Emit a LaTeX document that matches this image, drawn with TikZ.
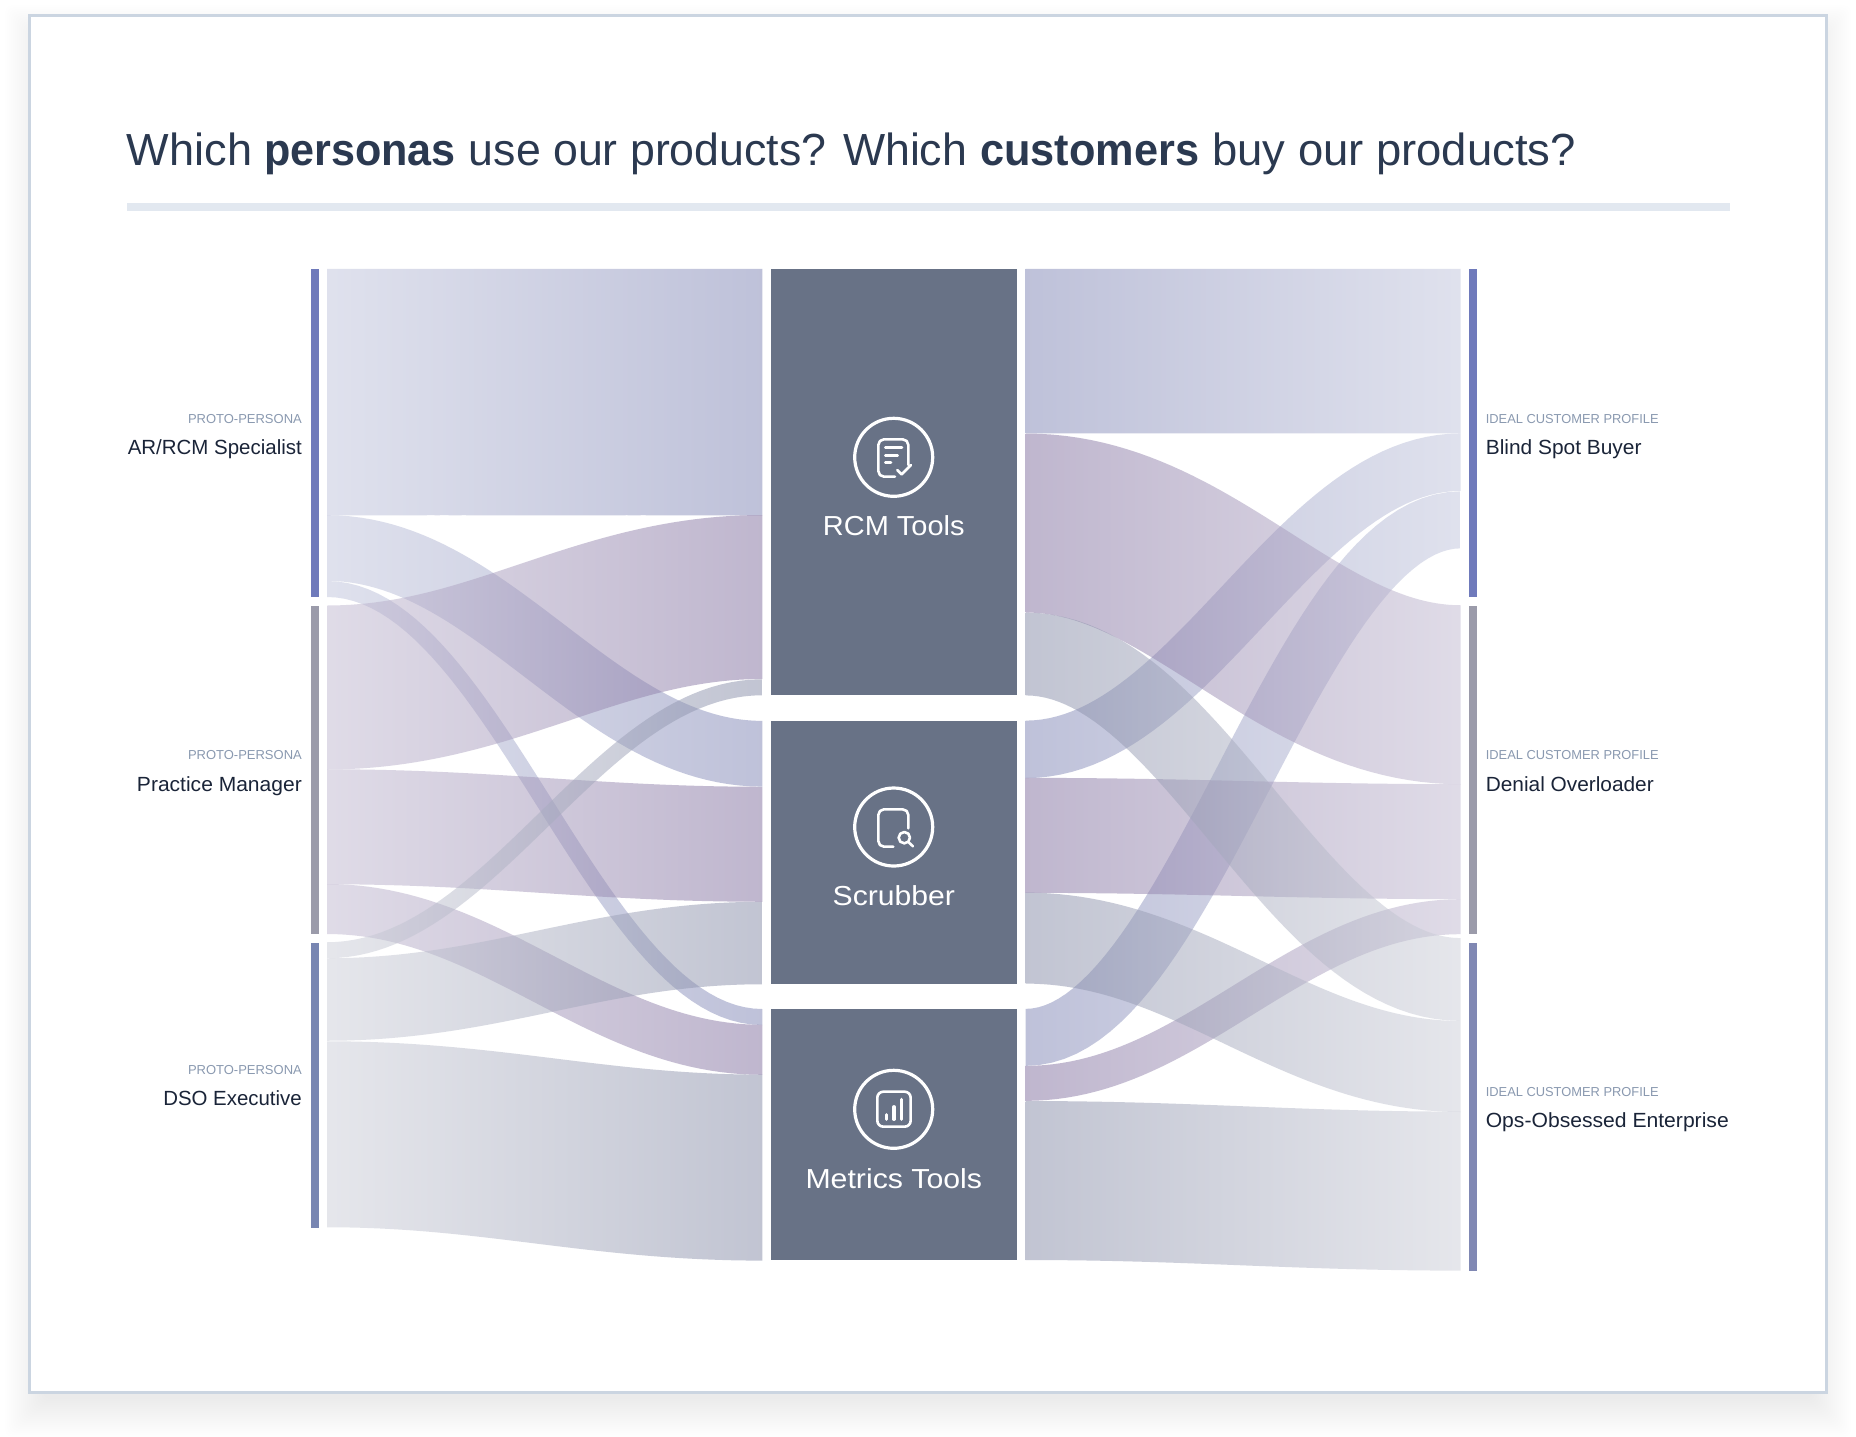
\documentclass[tikz,border=0pt]{standalone}
\usepackage{fontspec}
\usepackage{graphicx}
\setmainfont{Liberation Sans}
\definecolor{frameC}{HTML}{CBD5E1}
\definecolor{ruleC}{HTML}{E2E8F0}
\definecolor{titleC}{HTML}{2B3950}
\definecolor{smallC}{HTML}{8A99B0}
\definecolor{nameC}{HTML}{1A2438}
\definecolor{coreC}{RGB}{104,114,134}
\definecolor{barA}{RGB}{111,122,187}
\definecolor{barB}{RGB}{155,155,170}
\definecolor{barC}{RGB}{120,134,178}
\definecolor{barD}{RGB}{128,136,179}
\definecolor{aL}{RGB}{193,197,221}
\definecolor{aD}{RGB}{127,133,181}
\definecolor{bL}{RGB}{193,185,209}
\definecolor{bD}{RGB}{129,111,159}
\definecolor{cL}{RGB}{205,207,217}
\definecolor{cD}{RGB}{133,139,167}
\newsavebox{\fitbox}
\newcommand{\fitto}[2]{\sbox{\fitbox}{#2}\pgfmathsetmacro{\fitsc}{#1/(\wd\fitbox/1pt)}\scalebox{\fitsc}[1]{\usebox{\fitbox}}}
\def\rK{0.38}
\newcommand{\ribbon}[5]{%
  \pgfpointanchor{#1}{center}\pgfgetlastxy{\xaa}{\yaa}%
  \pgfpointanchor{#2}{center}\pgfgetlastxy{\xbb}{\ybb}%
  \pgfmathsetmacro{\xa}{\xaa}\pgfmathsetmacro{\ya}{\yaa}%
  \pgfmathsetmacro{\xb}{\xbb}\pgfmathsetmacro{\yb}{\ybb}%
  \pgfmathsetmacro{\rL}{\xb-\xa}\pgfmathsetmacro{\rH}{\yb-\ya}%
  \pgfmathsetmacro{\rW}{#3/2}%
  \pgfmathsetmacro{\rS}{\rH/\rL}%
  \pgfmathsetmacro{\ystart}{\ya+\rW}%
  \xdef\ribup{(\xa pt,\ystart pt)}%
  \gdef\ribdn{}%
  \foreach \i in {0,...,50}{%
    \pgfmathsetmacro{\t}{\i/50}%
    \pgfmathsetmacro{\s}{1-\t}%
    \pgfmathsetmacro{\px}{\xa+\rL*(3*\rK*\t*\s*\s+3*(1-\rK)*\t*\t*\s+\t*\t*\t)}%
    \pgfmathsetmacro{\py}{\ya+\rH*(3*\t*\t-2*\t*\t*\t)}%
    \pgfmathsetmacro{\uu}{3*(\rK*\s*\s+2*(1-2*\rK)*\t*\s+\rK*\t*\t)}%
    \pgfmathsetmacro{\vv}{\rS*6*\t*\s}%
    \pgfmathsetmacro{\rr}{veclen(\uu,\vv)}%
    \pgfmathsetmacro{\nx}{-\vv/\rr*\rW}%
    \pgfmathsetmacro{\ny}{\uu/\rr*\rW}%
    \pgfmathsetmacro{\ux}{max(\xa,min(\xb,\px+\nx))}%
    \pgfmathsetmacro{\uy}{\py+\ny}%
    \pgfmathsetmacro{\lx}{max(\xa,min(\xb,\px-\nx))}%
    \pgfmathsetmacro{\ly}{\py-\ny}%
    \xdef\ribup{\ribup -- (\ux pt,\uy pt)}%
    \xdef\ribdn{-- (\lx pt,\ly pt) \ribdn}%
  }%
  \shade[flowstyle,left color=#4,right color=#5] \ribup \ribdn -- cycle;%
}
\tikzset{
  flowstyle/.style={fill opacity=0.5,draw=none},
  barnode/.style={rectangle,inner sep=0pt,minimum width=8pt,draw=none},
  corenode/.style={rectangle,inner sep=0pt,minimum width=246.3pt,fill=coreC,draw=none},
  smalltext/.style={inner sep=0pt,text=smallC,font=\fontsize{13}{15}\selectfont},
  nametext/.style={inner sep=0pt,text=nameC,font=\fontsize{20.5}{24}\selectfont},
  coretext/.style={inner sep=0pt,text=white,font=\fontsize{27.5}{32}\selectfont,anchor=base},
  ring/.style={circle,inner sep=0pt,minimum size=78pt,draw=white,line width=3.2pt},
  iconline/.style={draw=white,line width=2.6pt,line cap=round,line join=round},
  iconbar/.style={draw=white,line width=3.2pt,line cap=round},
}
\begin{document}
\begin{tikzpicture}[x=1pt,y=-1pt]
\useasboundingbox (0,0) rectangle (1856,1436);
% soft shadow
\foreach \e in {2,4,...,40}{
  \fill[black,opacity=0.005,rounded corners=8pt]
    (45-\e,45-\e) rectangle (1811+\e,1397+\e);
}
\node[rectangle,inner sep=0pt,minimum width=1797pt,minimum height=1377pt,fill=white,draw=frameC,line width=3pt] (card) at (928,704) {};
\node[inner sep=0pt,anchor=base west,text=titleC,font=\fontsize{45}{50}\selectfont] (title) at (126.7,165.7)
  {\fitto{125.3}{Which}\hspace{12pt}\fitto{191.7}{\textbf{personas}}\hspace{13pt}\fitto{498.3}{use our products? Which}\hspace{13pt}\fitto{219}{\textbf{customers}}\hspace{13pt}\fitto{363.6}{buy our products?}};
\node[rectangle,inner sep=0pt,minimum width=1603pt,minimum height=8pt,fill=ruleC] (rule) at (928.2,206.7) {};

% ribbon ends
\foreach \n/\y in {ar1/392,ar2/548,ar3/589,pm1/687.5,pm2/826.75,pm3/909,ds1/950.25,ds2/999.5,ds3/1134.25}
  \coordinate (\n) at (327,\y);
\foreach \n/\y in {ar1t/392,ar2t/753.75,ar3t/1017,pm1t/597,pm2t/844.25,pm3t/1049.8,ds1t/687.25,ds2t/943,ds3t/1167.6}
  \coordinate (\n) at (762.3,\y);
\foreach \n/\y in {ra/351.1,rb/523,rc/654,sa/749.35,sb/835.35,sc/938.1,ma/1037.35,mb/1083.35,mc/1180.5}
  \coordinate (\n) at (1025.7,\y);
\foreach \n/\y in {rat/351.1,rbt/694.75,rct/979.5,sat/462.15,sbt/841.65,sct/1066.5,mat/519.85,mbt/916.65,mct/1191.1}
  \coordinate (\n) at (1460.7,\y);

% left ribbons
\ribbon{ar1}{ar1t}{246.5}{aL}{aD}
\ribbon{ar2}{ar2t}{65.7}{aL}{aD}
\ribbon{ar3}{ar3t}{16}{aL}{aD}
\ribbon{pm1}{pm1t}{164}{bL}{bD}
\ribbon{pm2}{pm2t}{115}{bL}{bD}
\ribbon{pm3}{pm3t}{50}{bL}{bD}
\ribbon{ds1}{ds1t}{16}{cL}{cD}
\ribbon{ds2}{ds2t}{82.5}{cL}{cD}
\ribbon{ds3}{ds3t}{186}{cL}{cD}
% right ribbons
\ribbon{ra}{rat}{164.3}{aD}{aL}
\ribbon{sa}{sat}{57.5}{aD}{aL}
\ribbon{ma}{mat}{57}{aD}{aL}
\ribbon{rb}{rbt}{179}{bD}{bL}
\ribbon{sb}{sbt}{115}{bD}{bL}
\ribbon{mb}{mbt}{35}{bD}{bL}
\ribbon{rc}{rct}{82.8}{cD}{cL}
\ribbon{sc}{sct}{91}{cD}{cL}
\ribbon{mc}{mct}{159}{cD}{cL}

% side bars
\node[barnode,fill=barA,minimum height=328.5pt] (arbar) at (314.7,432.75) {};
\node[barnode,fill=barB,minimum height=328.5pt] (pmbar) at (314.7,769.75) {};
\node[barnode,fill=barC,minimum height=285pt] (dsbar) at (314.7,1085) {};
\node[barnode,fill=barA,minimum height=328.5pt] (blbar) at (1473,432.75) {};
\node[barnode,fill=barB,minimum height=328.5pt] (debar) at (1473,769.75) {};
\node[barnode,fill=barD,minimum height=328pt] (opbar) at (1473,1106.5) {};

% core blocks
\node[corenode,minimum height=426.8pt] (rcm) at (893.85,481.9) {};
\node[corenode,minimum height=263.3pt] (scrub) at (893.85,852.35) {};
\node[corenode,minimum height=251pt] (metrics) at (893.85,1134.5) {};

% left labels
\node[smalltext,anchor=base east] (l1a) at (302,423) {\fitto{113.8}{PROTO-PERSONA}};
\node[nametext,anchor=base east] (l1b) at (302,454) {\fitto{174}{AR/RCM Specialist}};
\node[smalltext,anchor=base east] (l2a) at (302,759.6) {\fitto{113.8}{PROTO-PERSONA}};
\node[nametext,anchor=base east] (l2b) at (302,791.5) {\fitto{164.8}{Practice Manager}};
\node[smalltext,anchor=base east] (l3a) at (302,1074) {\fitto{113.8}{PROTO-PERSONA}};
\node[nametext,anchor=base east] (l3b) at (302,1105.5) {\fitto{138.5}{DSO Executive}};
% right labels
\node[smalltext,anchor=base west] (r1a) at (1485.6,423) {\fitto{172.8}{IDEAL CUSTOMER PROFILE}};
\node[nametext,anchor=base west] (r1b) at (1485.6,454) {\fitto{155.7}{Blind Spot Buyer}};
\node[smalltext,anchor=base west] (r2a) at (1485.6,759.6) {\fitto{172.8}{IDEAL CUSTOMER PROFILE}};
\node[nametext,anchor=base west] (r2b) at (1485.6,791.5) {\fitto{168}{Denial Overloader}};
\node[smalltext,anchor=base west] (r3a) at (1485.6,1096.7) {\fitto{172.8}{IDEAL CUSTOMER PROFILE}};
\node[nametext,anchor=base west] (r3b) at (1485.6,1127.3) {\fitto{243}{Ops-Obsessed Enterprise}};

% core text
\node[coretext] (t1) at (893.8,535.7) {\fitto{141.7}{RCM Tools}};
\node[coretext] (t2) at (893.8,905.7) {\fitto{122.3}{Scrubber}};
\node[coretext] (t3) at (893.8,1188.3) {\fitto{176.6}{Metrics Tools}};

% icons
\node[ring] (i1) at (893.7,457.3) {};
\node[ring] (i2) at (893.7,827) {};
\node[ring] (i3) at (893.7,1109.3) {};
\begin{scope}[shift={(780pt,-380pt)},x=0.3333pt,y=-0.3333pt]
  \draw[iconline,rounded corners=5.6pt] (385,255) -- (385,178) -- (295,178) -- (295,290) -- (345,290);
  \draw[iconline] (316,203) -- (366,203);
  \draw[iconline] (316,226) -- (353,226);
  \draw[iconline] (316,248) -- (333,248);
  \draw[iconline] (352,270) -- (365,283) -- (393,255);
\end{scope}
\begin{scope}[shift={(780pt,-760pt)},x=0.3333pt,y=-0.3333pt]
  \draw[iconline,rounded corners=5.6pt] (385,205) -- (385,148) -- (295,148) -- (295,260) -- (340,260);
  \draw[iconline] (373,233) circle[radius=17];
  \draw[iconline] (386,247) -- (399,259);
\end{scope}
\begin{scope}[shift={(780pt,-1040pt)},x=0.3333pt,y=-0.3333pt]
  \draw[iconline,rounded corners=6pt] (292,155) rectangle (392,260);
  \draw[iconbar] (320,224) -- (320,238);
  \draw[iconbar] (342,200) -- (342,238);
  \draw[iconbar] (364,178) -- (364,238);
\end{scope}
\end{tikzpicture}
\end{document}
